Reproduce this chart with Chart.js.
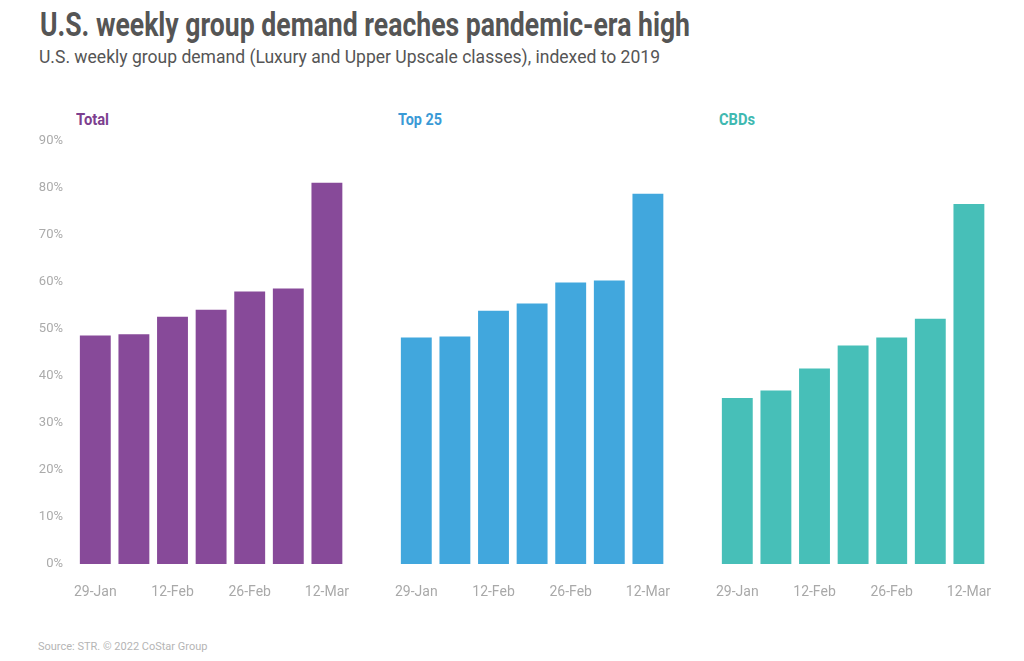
<!DOCTYPE html>
<html>
<head>
<meta charset="utf-8">
<script src="https://cdn.jsdelivr.net/npm/chart.js@4.4.1/dist/chart.umd.min.js"></script>
<style>
  body { margin: 0; background: #fff; font-family: Roboto, "DejaVu Sans", sans-serif; }
  #wrap { position: relative; width: 1024px; height: 661px; overflow: hidden; }
  .fit { position: absolute; white-space: nowrap; transform-origin: 0 0; }
  .title { left: 40px; top: 5px; font-size: 33px; font-weight: bold; color: #555; }
  .subtitle { left: 39px; top: 45px; font-size: 19px; color: #555; }
  .panel { top: 110px; font-size: 16px; font-weight: bold; }
  .source { position: absolute; left: 38px; top: 640px; font-size: 11px; color: #b5b5b5; }
  canvas { position: absolute; }
</style>
</head>
<body>
<div id="wrap">
  <div class="fit title" data-w="650">U.S. weekly group demand reaches pandemic-era high</div>
  <div class="fit subtitle" data-w="621">U.S. weekly group demand (Luxury and Upper Upscale classes), indexed to 2019</div>
  <div class="fit panel" data-w="33" style="left:76px;color:#7d3f8f">Total</div>
  <div class="fit panel" data-w="44" style="left:398px;color:#3a9ad6">Top 25</div>
  <div class="fit panel" data-w="36" style="left:719px;color:#3fb9b1">CBDs</div>
  <canvas id="c1" style="left:30px;top:100px"></canvas>
  <canvas id="c2" style="left:351px;top:100px"></canvas>
  <canvas id="c3" style="left:672px;top:100px"></canvas>
  <div class="source">Source: STR. © 2022 CoStar Group</div>
</div>
<script>
// weeks (ending dates)
const weeks = ['29-Jan', '5-Feb', '12-Feb', '19-Feb', '26-Feb', '5-Mar', '12-Mar'];

// group demand indexed to 2019, in %
const totalValues = [48.6, 48.9, 52.6, 54.1, 58.0, 58.6, 81.1];
const top25Values = [48.2, 48.4, 53.9, 55.4, 59.9, 60.3, 78.8];
const cbdValues = [35.3, 36.9, 41.6, 46.5, 48.2, 52.2, 76.6];

const yMax = 90;
const yStep = 10;

// squeeze the text to the condensed width of the original
document.querySelectorAll('.fit').forEach(function(el) {
    const target = +el.dataset.w;
    const w = el.getBoundingClientRect().width;
    el.style.transform = 'scaleX(' + (target / w) + ')';
});

function makeChart(id, values, color, showY) {
    const ctx = document.getElementById(id).getContext('2d');
    new Chart(ctx, {
        type: 'bar',
        data: {
            labels: weeks,
            datasets: [{
                data: values,
                backgroundColor: color,
                borderWidth: 0,
                barPercentage: 0.8,
                categoryPercentage: 1
            }]
        },
        options: {
            responsive: false,
            animation: false,
            layout: { autoPadding: false, padding: { top: 41, left: 0, right: 0, bottom: 0 } },
            plugins: {
                legend: { display: false },
                tooltip: { enabled: false }
            },
            scales: {
                x: {
                    // tick marks are invisible, their length just moves the labels down
                    grid: { display: false, drawTicks: true, tickLength: 20 },
                    border: { display: false },
                    afterFit: function(axis) { axis.height = 40; },
                    ticks: {
                        autoSkip: false,
                        maxRotation: 0,
                        padding: 0,
                        color: '#a9a9a9',
                        font: { family: 'Roboto', size: 14 },
                        callback: function(val, i) { return i % 2 === 0 ? weeks[i] : ''; }
                    }
                },
                y: {
                    min: 0,
                    max: yMax,
                    grid: { display: false, drawTicks: false },
                    border: { display: false },
                    afterFit: function(axis) { axis.width = 46; },
                    ticks: {
                        stepSize: yStep,
                        padding: 13,
                        color: showY ? '#ababab' : 'rgba(0,0,0,0)',
                        font: { family: 'Roboto', size: 13 },
                        callback: function(v) { return v + '%'; }
                    }
                }
            }
        }
    });
}

['c1', 'c2', 'c3'].forEach(function(id) {
    const el = document.getElementById(id);
    el.width = 319;
    el.height = 504;
});

makeChart('c1', totalValues, '#874a99', true);
makeChart('c2', top25Values, '#41a7dd', false);
makeChart('c3', cbdValues, '#47bfb8', false);
</script>
</body>
</html>
